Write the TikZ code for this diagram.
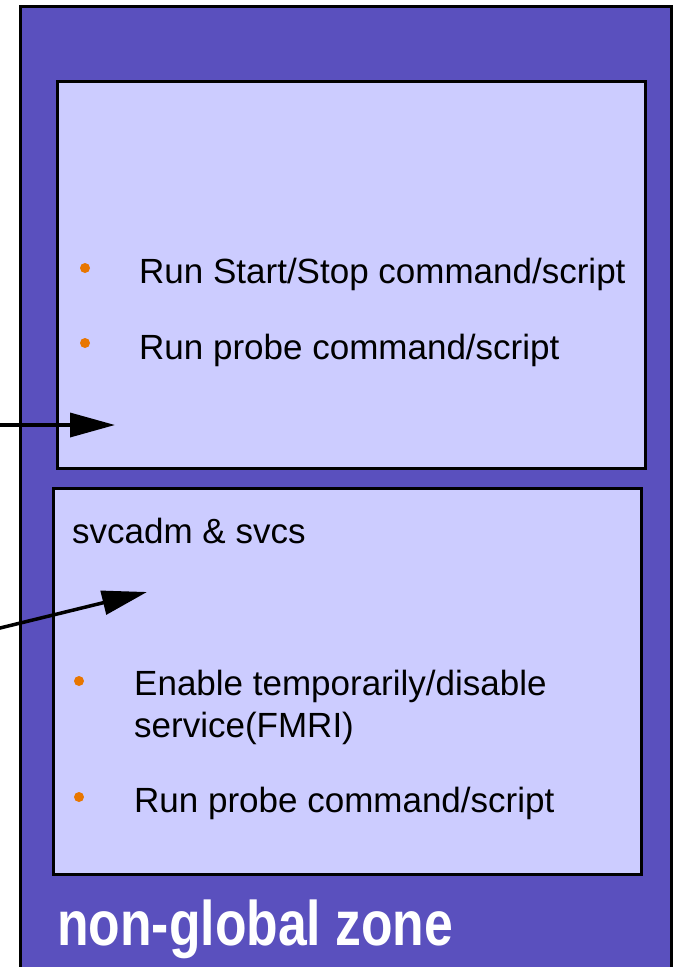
\documentclass[tikz,border=0pt]{standalone}
\usepackage{fontspec}
\setmainfont{Liberation Sans}
\usetikzlibrary{arrows.meta}
\definecolor{zonefill}{RGB}{90,80,190}
\definecolor{boxfill}{RGB}{204,204,255}
\definecolor{bulletc}{RGB}{232,118,0}
\tikzset{
  zonebox/.style={draw=black,line width=3pt,fill=zonefill},
  innerbox/.style={draw=black,line width=3pt,fill=boxfill},
  txt/.style={anchor=base west,inner sep=0pt,font=\fontsize{35}{42}\selectfont,text=black},
  bul/.style={circle,fill=bulletc,inner sep=0pt,minimum size=10pt},
  arr/.style={line width=3.5pt,-{Triangle[length=45pt,width=24pt]}}
}
\begin{document}
\begin{tikzpicture}[x=1pt,y=-1pt]
\useasboundingbox (0,0) rectangle (673,967);
\begin{scope}
\clip (0,0) rectangle (673,967);
\draw[zonebox] (20,6) rectangle (671,1000);
\end{scope}
\draw[innerbox] (57.5,81.5) rectangle (645,468.5);
\draw[innerbox] (53.5,488.5) rectangle (641.5,874.5);
% top box
\node[bul] (b1) at (85,268) {};
\node[txt] (t1) at (139,283) {Run Start/Stop command/script};
\node[bul] (b2) at (85,343) {};
\node[txt] (t2) at (139,359) {Run probe command/script};
% bottom box
\node[txt] (t0) at (72,543) {svcadm \& svcs};
\node[bul] (b3) at (79,681) {};
\node[txt] (t3) at (134,695) {Enable temporarily/disable};
\node[txt] (t3b) at (134,737) {service(FMRI)};
\node[bul] (b4) at (79,797) {};
\node[txt] (t4) at (134,812) {Run probe command/script};
% zone label
\node[anchor=base west,inner sep=0pt,text=white] (zl) at (57,945)
  {\scalebox{0.82}[1]{\fontsize{63}{63}\selectfont\bfseries non-global zone}};
% arrows
\coordinate (a1s) at (-2,425);
\coordinate (a1e) at (115,425);
\coordinate (a2s) at (-2,628.5);
\coordinate (a2e) at (147,592);
\draw[arr] (a1s) -- (a1e);
\draw[arr] (a2s) -- (a2e);
\end{tikzpicture}
\end{document}
